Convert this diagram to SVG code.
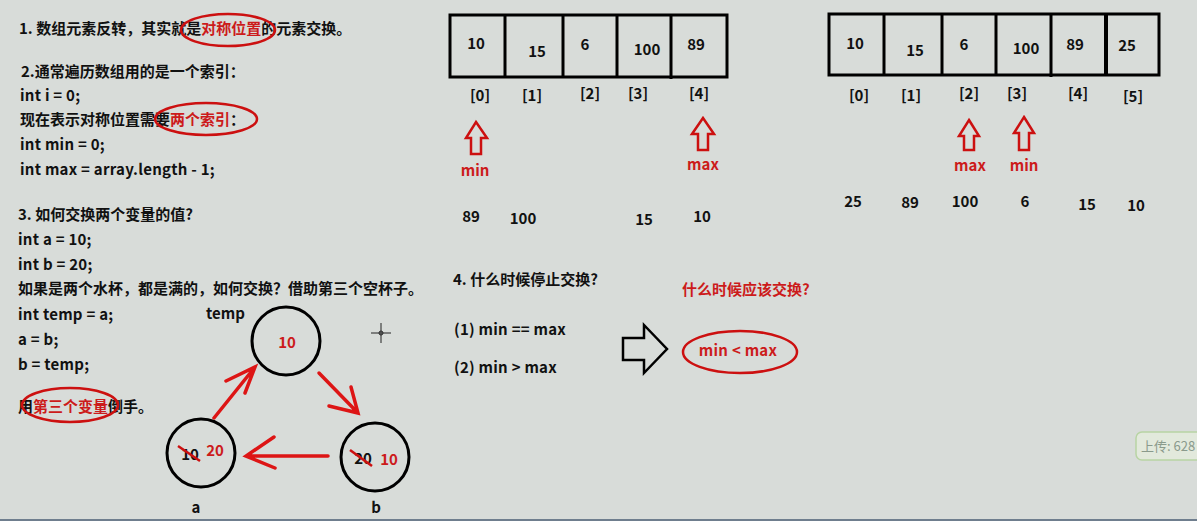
<svg xmlns="http://www.w3.org/2000/svg" width="1197" height="521" viewBox="0 0 1197 521">
<defs>
<style>
.t{font-family:"Noto Sans CJK SC","Noto Sans",sans-serif;font-weight:bold;font-size:15px;fill:#111}
.l{letter-spacing:0.25px}
.r{fill:#cc1b1b}
.c{text-anchor:middle}
.ov{fill:none;stroke:#cc1010;stroke-width:2.5}
.box{fill:none;stroke:#000;stroke-width:3}
.cir{fill:none;stroke:#000;stroke-width:3}
.ar{fill:none;stroke:#dd1515;stroke-width:3.5;stroke-linecap:round}
.ua{fill:none;stroke:#cc1010;stroke-width:2.5;stroke-linejoin:miter}
.st{stroke:#cc1010;stroke-width:2.5}
</style>
</defs>
<rect width="1197" height="521" fill="#d8dcd9"/>

<g id="text-left">
<text class="t" x="19" y="34">1. 数组元素反转，其实就是<tspan class="r">对称位置</tspan>的元素交换。</text>
<ellipse class="ov" cx="228" cy="30" rx="47" ry="16"/>
<text class="t" x="21" y="77">2.通常遍历数组用的是一个索引：</text>
<text class="t l" x="20" y="101">int i = 0;</text>
<text class="t" x="20" y="125">现在表示对称位置需要<tspan class="r">两个索引</tspan>：</text>
<ellipse class="ov" cx="206" cy="119" rx="51" ry="16"/>
<text class="t l" x="20" y="150">int min = 0;</text>
<text class="t l" x="20" y="175">int max = array.length - 1;</text>
<text class="t" x="18" y="220">3. 如何交换两个变量的值?</text>
<text class="t l" x="18" y="245">int a = 10;</text>
<text class="t l" x="18" y="270">int b = 20;</text>
<text class="t" x="18" y="294">如果是两个水杯，都是满的，如何交换？借助第三个空杯子。</text>
<text class="t l" x="18" y="320">int temp = a;</text>
<text class="t l" x="18" y="345">a = b;</text>
<text class="t l" x="18" y="370">b = temp;</text>
<text class="t" x="18" y="412">用<tspan class="r">第三个变量</tspan>倒手。</text>
<ellipse class="ov" cx="70" cy="405" rx="48" ry="17"/>
</g>

<g id="node-temp">
<text class="t" x="206" y="319">temp</text>
<circle class="cir" cx="286" cy="341" r="34"/>
<text class="t r c" x="287" y="348">10</text>
</g>
<g id="node-a">
<circle class="cir" cx="201" cy="453" r="34"/>
<text class="t c" x="190" y="460">10</text>
<line class="st" x1="178" y1="446" x2="200" y2="461"/>
<text class="t r c" x="215" y="456">20</text>
<text class="t c" x="196" y="513">a</text>
</g>
<g id="node-b">
<circle class="cir" cx="375" cy="457" r="34"/>
<text class="t c" x="363" y="464">20</text>
<line class="st" x1="350" y1="450" x2="372" y2="466"/>
<text class="t r c" x="389" y="465">10</text>
<text class="t c" x="376" y="513">b</text>
</g>

<g id="connectors">
<path class="ar" d="M214,418 L255,367 M226,381 L255,367 L245,393"/>
<path class="ar" d="M319,373 L358,413 M329,406 L358,413 L351,387"/>
<path class="ar" d="M328,456 L246,456 M274,437 L246,456 L275,468"/>
</g>

<g id="cursor" stroke="#222" stroke-width="1" fill="none">
<circle cx="381" cy="333" r="2"/>
<path d="M371,333 H391 M381,323 V343"/>
</g>

<g id="array1">
<rect class="box" x="450" y="15" width="277" height="62"/>
<path class="box" d="M505,14 V77 M563,15 V77 M617,15 V77 M671,15 V79"/>
<text class="t c" x="476" y="49">10</text>
<text class="t c" x="537" y="57">15</text>
<text class="t c" x="585" y="50">6</text>
<text class="t c" x="647" y="55">100</text>
<text class="t c" x="696" y="50">89</text>
<text class="t c" x="480" y="101">[0]</text>
<text class="t c" x="532" y="101">[1]</text>
<text class="t c" x="590" y="99">[2]</text>
<text class="t c" x="638" y="99">[3]</text>
<text class="t c" x="699" y="99">[4]</text>
<path class="ua" d="M476,122 L487,138 L481,138 L481,154 L471,154 L471,138 L466,138 Z"/>
<text class="t r c" x="475" y="176">min</text>
<path class="ua" d="M703,118 L714,134 L708,134 L708,150 L698,150 L698,134 L692,134 Z"/>
<text class="t r c" x="703" y="170">max</text>
<text class="t c" x="471" y="222">89</text>
<text class="t c" x="523" y="224">100</text>
<text class="t c" x="644" y="225">15</text>
<text class="t c" x="702" y="222">10</text>
</g>

<g id="array2">
<rect class="box" x="829" y="14" width="330" height="61"/>
<path class="box" d="M884,13 V75 M942,14 V75 M996,14 V75 M1051,14 V77"/>
<path d="M1106,13 V76" stroke="#000" stroke-width="4"/>
<text class="t c" x="855" y="49">10</text>
<text class="t c" x="915" y="56">15</text>
<text class="t c" x="964" y="50">6</text>
<text class="t c" x="1026" y="54">100</text>
<text class="t c" x="1075" y="50">89</text>
<text class="t c" x="1127" y="51">25</text>
<text class="t c" x="859" y="101">[0]</text>
<text class="t c" x="911" y="101">[1]</text>
<text class="t c" x="969" y="99">[2]</text>
<text class="t c" x="1017" y="99">[3]</text>
<text class="t c" x="1078" y="99">[4]</text>
<text class="t c" x="1133" y="102">[5]</text>
<path class="ua" d="M969,120 L979,136 L974,136 L974,150 L964,150 L964,136 L959,136 Z"/>
<text class="t r c" x="970" y="171">max</text>
<path class="ua" d="M1024,117 L1034,133 L1029,133 L1029,150 L1019,150 L1019,133 L1014,133 Z"/>
<text class="t r c" x="1024" y="171">min</text>
<text class="t c" x="853" y="207">25</text>
<text class="t c" x="910" y="208">89</text>
<text class="t c" x="965" y="207">100</text>
<text class="t c" x="1025" y="207">6</text>
<text class="t c" x="1087" y="210">15</text>
<text class="t c" x="1136" y="211">10</text>
</g>

<g id="section4">
<text class="t" x="453" y="285">4. 什么时候停止交换?</text>
<text class="t l" x="454" y="335">(1) min == max</text>
<text class="t l" x="454" y="373">(2) min &gt; max</text>
<path d="M623,338 L644,338 L644,325 L667,349 L644,373 L644,360 L623,360 Z" fill="none" stroke="#000" stroke-width="2.5"/>
<text class="t r" x="682" y="295">什么时候应该交换?</text>
<ellipse class="ov" cx="740" cy="352" rx="57" ry="21"/>
<text class="t r c l" x="738" y="356">min &lt; max</text>
</g>

<g id="badge">
<rect x="1136" y="432" width="70" height="28" rx="6" fill="#e2e9dc" stroke="#b8d4a4" stroke-width="1.5"/>
<text x="1141" y="451" font-family="'Noto Sans CJK SC','Noto Sans',sans-serif" font-size="13" fill="#8a9a8c">上传: 628</text>
</g>
<rect x="0" y="519" width="1197" height="2" fill="#6f7e8e"/>
</svg>
